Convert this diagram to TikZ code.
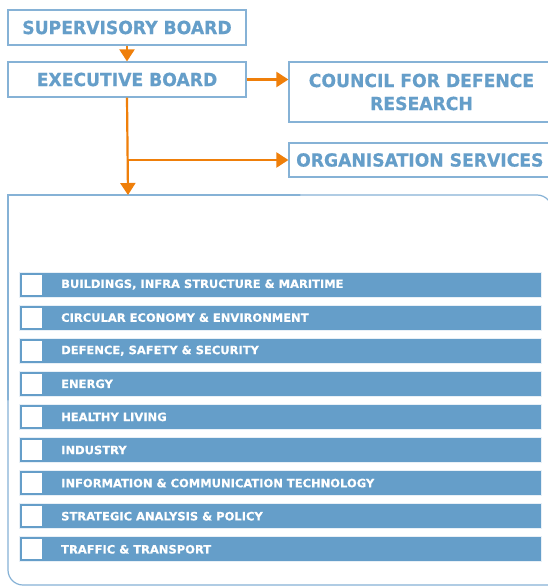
\documentclass[tikz,border=0pt]{standalone}
\usepackage{fontspec}
\setmainfont{DejaVu Sans}
\newfontfamily\headfont[FakeStretch=0.955, FakeBold=0.6]{DejaVu Sans Bold}
\newfontfamily\unitfont[FakeBold=0.4]{DejaVu Sans Bold}
\usetikzlibrary{arrows.meta}
\definecolor{tnoblue}{HTML}{659EC9}
\definecolor{tnoline}{HTML}{86B2D6}
\definecolor{tnoorange}{HTML}{EF7F0A}
\tikzset{
  orgbox/.style={draw=tnoline, line width=1.2pt, fill=white, inner sep=0pt},
  orgtext/.style={text=tnoblue, inner sep=0pt, align=center,
    font=\headfont\fontsize{18}{23}\selectfont},
  frameline/.style={draw=tnoline, line width=1.2pt, line cap=round},
  link/.style={draw=tnoorange, line width=2.2pt,
    -{Triangle[length=12pt,width=15pt]}},
  unitbar/.style={fill=tnoblue, draw=white!85!tnoblue, line width=0.8pt},
  unitmark/.style={fill=white, draw=none},
  unittext/.style={anchor=west, inner sep=0pt, text=white,
    font=\unitfont\fontsize{11.5}{13}\selectfont}
}
\begin{document}
\begin{tikzpicture}[x=1pt,y=-1pt]
\useasboundingbox (0,0) rectangle (548,586);
\clip (0,0) rectangle (548,586);
\fill[white] (0,0) rectangle (548,586);

% board level
\node[orgbox, orgtext, minimum width=238pt, minimum height=35pt] (sup) at (127,27.5) {SUPERVISORY BOARD};
\node[orgbox, orgtext, minimum width=238pt, minimum height=35pt] (exec) at (127,79.5) {EXECUTIVE BOARD};
\node[orgbox, minimum width=275pt, minimum height=60pt] (council) at (426.5,92) {};
\node[orgtext] (counciltext) at (421.5,92) {COUNCIL FOR DEFENCE\\RESEARCH};
\node[orgbox, minimum width=275pt, minimum height=34pt] (orgsrv) at (426.5,160) {};
\node[orgtext, anchor=west] (orgsrvtext) at (296,160) {ORGANISATION SERVICES};

% units frame: square top-left corner, rounded top-right and bottom-left
\coordinate (frametop) at (128,195);
\draw[frameline] (8,400) -- (8,195) -- (300,195);
\draw[frameline, rounded corners=15pt] (300,195) -- (552,195) -- (552,600);
\draw[frameline, rounded corners=15pt] (8,400) -- (8,585) -- (560,585);

% connectors
\draw[link] (sup.south) -- (exec.north);
\draw[link] (exec.east) -- (council.west |- exec.east);
\coordinate (branch) at (exec.south |- orgsrv.west);
\draw[link] (exec.south) -- (frametop);
\draw[link] (branch) -- (orgsrv.west);

% research units
\foreach \lbl [count=\i from 0] in {
  {BUILDINGS, INFRA STRUCTURE \& MARITIME},
  {CIRCULAR ECONOMY \& ENVIRONMENT},
  {DEFENCE, SAFETY \& SECURITY},
  {ENERGY},
  {HEALTHY LIVING},
  {INDUSTRY},
  {INFORMATION \& COMMUNICATION TECHNOLOGY},
  {STRATEGIC ANALYSIS \& POLICY},
  {TRAFFIC \& TRANSPORT}} {
  \pgfmathsetmacro{\yc}{284.5+33.1*\i}
  \draw[unitbar] (19,\yc-12.5) rectangle (541,\yc+12.5);
  \fill[unitmark] (22,\yc-10) rectangle (42,\yc+10);
  \node[unittext] (unit\i) at (61,\yc) {\lbl};
}
\end{tikzpicture}
\end{document}
